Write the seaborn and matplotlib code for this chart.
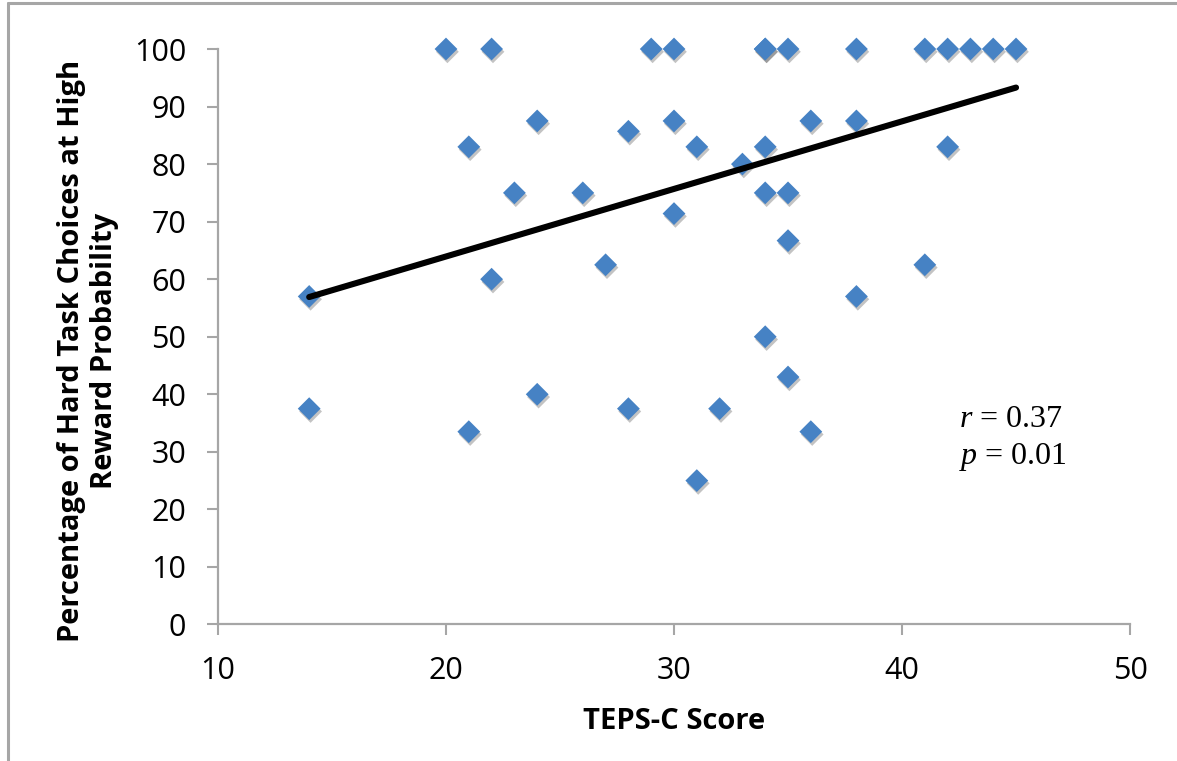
import numpy as np
import pandas as pd
import matplotlib
matplotlib.use("Agg")
import matplotlib.pyplot as plt
import matplotlib.patheffects as pe
import seaborn as sns

# TEPS-C score vs % hard task choices
teps_c = [14, 14, 20, 21, 21, 22, 22, 23, 24, 24, 26, 27, 28, 28, 29,
          30, 30, 30, 31, 31, 32, 33, 34, 34, 34, 34, 34, 35, 35, 35, 35,
          36, 36, 38, 38, 38, 41, 41, 42, 42, 43, 44, 45]
hard_pct = [57, 37.5, 100, 83, 33.5, 100, 60, 75, 87.5, 40, 75, 62.5, 85.7, 37.5, 100,
            100, 87.5, 71.4, 83, 25, 37.5, 80, 100, 100, 83, 75, 50, 100, 75, 66.7, 43,
            87.5, 33.5, 100, 87.5, 57, 100, 62.5, 100, 83, 100, 100, 100]

# linear trend line endpoints
trend_x = [14, 45]
trend_y = [56.9, 93.3]

x_ticks = [10, 20, 30, 40, 50]
y_ticks = [0, 10, 20, 30, 40, 50, 60, 70, 80, 90, 100]
stats_text = ["$r$ = 0.37", "$p$ = 0.01"]

df = pd.DataFrame({"TEPS-C": teps_c, "Hard": hard_pct})
trend = pd.DataFrame({"x": trend_x, "y": trend_y})

sns.set_theme(style="white")
plt.rcParams["font.family"] = ["Open Sans", "DejaVu Sans"]
plt.rcParams["text.color"] = "black"
plt.rcParams["mathtext.fontset"] = "custom"
plt.rcParams["mathtext.it"] = "Liberation Serif:italic"
plt.rcParams["mathtext.rm"] = "Liberation Serif"

fig = plt.figure(figsize=(11.77, 7.61), dpi=100)
ax = fig.add_axes([0.1852, 0.1794, 0.7749, 0.7562])

grey = "#a6a6a6"

sns.scatterplot(data=df, x="TEPS-C", y="Hard", ax=ax, marker="D", s=135,
                color="#4682c4", linewidth=0, clip_on=False, zorder=3,
                path_effects=[pe.SimplePatchShadow(offset=(1, -2), shadow_rgbFace="#555555", alpha=0.35),
                              pe.Normal()])
sns.lineplot(data=trend, x="x", y="y", ax=ax, color="black", linewidth=4.4,
             solid_capstyle="round", zorder=4)

ax.set_xlim(10, 50)
ax.set_ylim(0, 100)
ax.set_xticks(x_ticks)
ax.set_yticks(y_ticks)
ax.tick_params(axis="both", which="major", direction="out", length=8, width=1.5,
               color=grey, labelcolor="black", labelsize=22, pad=15, left=True, bottom=True)
for s in ["top", "right"]:
    ax.spines[s].set_visible(False)
for s in ["left", "bottom"]:
    ax.spines[s].set_color(grey)
    ax.spines[s].set_linewidth(1.6)

ax.set_xlabel("TEPS-C Score", fontsize=21, fontweight="bold", color="black", labelpad=15)
ax.set_ylabel("Percentage of Hard Task Choices at High\nReward Probability",
              fontsize=21, fontweight="bold", color="black", multialignment="center",
              linespacing=1.2)
ax.yaxis.set_label_coords(-0.108, 0.475)

ax.text(42.5, 34.3, stats_text[0], fontsize=23, family="Liberation Serif", ha="left", va="baseline")
ax.text(42.5, 27.9, stats_text[1], fontsize=23, family="Liberation Serif", ha="left", va="baseline")

# outer frame (top and left edges visible in the reference)
fig.add_artist(plt.Line2D([0.0068, 1.0], [0.996, 0.996], transform=fig.transFigure,
                          color=grey, linewidth=2.2))
fig.add_artist(plt.Line2D([0.0068, 0.0068], [0.0, 0.996], transform=fig.transFigure,
                          color=grey, linewidth=2.2))

fig.savefig("out.png", dpi=100)
